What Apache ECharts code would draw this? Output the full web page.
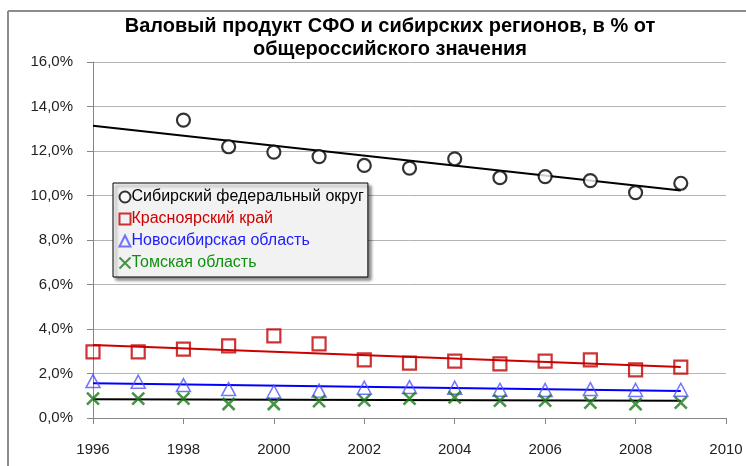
<!DOCTYPE html>
<html><head><meta charset="utf-8">
<script src="https://cdn.jsdelivr.net/npm/echarts@6/dist/echarts.min.js"></script>
<style>html,body{margin:0;padding:0;background:#fff}#c{width:746px;height:466px}</style>
</head><body><div id="c"></div>
<script>
const titleText = 'Валовый продукт СФО и сибирских регионов, в % от\nобщероссийского значения';
const years = [1996,1997,1998,1999,2000,2001,2002,2003,2004,2005,2006,2007,2008,2009];
const seriesNames = ['Сибирский федеральный округ','Красноярский край','Новосибирская область','Томская область'];
const sfo    = [null,null,13.39,12.19,11.95,11.75,11.35,11.23,11.65,10.80,10.85,10.67,10.13,10.55];
const krasn  = [2.97,2.97,3.10,3.24,3.69,3.33,2.61,2.47,2.56,2.43,2.56,2.61,2.16,2.29];
const novos  = [1.66,1.63,1.48,1.30,1.18,1.23,1.36,1.39,1.36,1.27,1.26,1.30,1.26,1.27];
const tomsk  = [0.87,0.87,0.87,0.63,0.63,0.76,0.79,0.87,0.93,0.78,0.78,0.69,0.62,0.69];
// trend line endpoints: [year, value]
const trendSfo   = [[1996,13.14],[2009,10.22]];
const trendKrasn = [[1996,3.28],[2009,2.29]];
const trendNovos = [[1996,1.56],[2009,1.21]];
const trendTomsk = [[1996,0.84],[2009,0.78]];
const yTicks = [0,2,4,6,8,10,12,14,16];
const xTicks = [1996,1998,2000,2002,2004,2006,2008,2010];

const pair = arr => years.map((y,i)=>[y,arr[i]]).filter(p=>p[1]!==null);
const XPATH = 'path://M0,0L10,10M10,0L0,10';
const cols = ['#000000','#c00000','#3a3aff','#1a7a1a'];
const txtCols = ['#000000','#d00000','#2020ff','#109010'];

const chart = echarts.init(document.getElementById('c'), null, {renderer:'canvas'});
const font = 'Liberation Sans, Arial, sans-serif';
chart.setOption({
  animation:false,
  textStyle:{fontFamily:font},
  title:{text:titleText,left:385,top:10,textAlign:'center',
    textStyle:{fontFamily:font,fontSize:20,fontWeight:'bold',color:'#000',lineHeight:23}},
  graphic:[
    {type:'line',shape:{x1:8,y1:11,x2:746,y2:11},style:{stroke:'#8c8c8c',lineWidth:2},silent:true},
    {type:'line',shape:{x1:8,y1:11,x2:8,y2:466},style:{stroke:'#8c8c8c',lineWidth:2},silent:true}
  ],
  legend:{
    orient:'vertical',left:113,top:183,itemGap:4,itemWidth:11,itemHeight:11,
    padding:[5,4,5,4],
    backgroundColor:'#f2f2f2',borderColor:'#000',borderWidth:1,
    shadowColor:'rgba(0,0,0,0.45)',shadowBlur:3,shadowOffsetX:3,shadowOffsetY:3,
    textStyle:{fontFamily:font,fontSize:16,lineHeight:18,padding:[0,0,0,-4]},
    data:seriesNames.map((n,i)=>({name:n,textStyle:{color:txtCols[i]}}))
  },
  grid:{left:93,right:20,top:62,bottom:48},
  xAxis:{type:'value',min:1996,max:2010,interval:2,
    axisLine:{lineStyle:{color:'#868686',width:1}},
    axisTick:{show:true,length:6,lineStyle:{color:'#868686'}},
    splitLine:{show:false},
    axisLabel:{formatter:v=>String(v),color:'#222',fontSize:15,margin:24,fontFamily:font}},
  yAxis:{type:'value',min:0,max:16,interval:2,
    axisLine:{show:true,lineStyle:{color:'#868686',width:1}},
    axisTick:{show:true,length:6,lineStyle:{color:'#868686'}},
    splitLine:{lineStyle:{color:'#b4b4b4',width:1}},
    axisLabel:{formatter:v=>v.toFixed(1).replace('.',',')+'%',color:'#222',fontSize:15,margin:20,fontFamily:font}},
  series:[
    {name:seriesNames[0],type:'scatter',data:pair(sfo),symbol:'circle',symbolSize:13,z:5,
      itemStyle:{color:'#fff',borderColor:cols[0],borderWidth:2.2}},
    {name:seriesNames[1],type:'scatter',data:pair(krasn),symbol:'rect',symbolSize:13,z:5,
      itemStyle:{color:'rgba(255,255,255,0)',borderColor:cols[1],borderWidth:2.2}},
    {name:seriesNames[2],type:'scatter',data:pair(novos),symbol:'triangle',symbolSize:[14,13],z:5,
      itemStyle:{color:'rgba(255,255,255,0)',borderColor:'#5050ff',borderWidth:1.5}},
    {name:seriesNames[3],type:'scatter',data:pair(tomsk),symbol:XPATH,symbolSize:12,z:5,
      itemStyle:{color:'none',borderColor:cols[3],borderWidth:2.6}},
    {type:'line',data:trendSfo,showSymbol:false,symbol:'none',lineStyle:{color:'#000',width:2},z:3,silent:true},
    {type:'line',data:trendKrasn,showSymbol:false,symbol:'none',lineStyle:{color:'#cc0000',width:2},z:3,silent:true},
    {type:'line',data:trendNovos,showSymbol:false,symbol:'none',lineStyle:{color:'#0000ff',width:2},z:3,silent:true},
    {type:'line',data:trendTomsk,showSymbol:false,symbol:'none',lineStyle:{color:'#000',width:2},z:3,silent:true}
  ]
});
</script></body></html>
